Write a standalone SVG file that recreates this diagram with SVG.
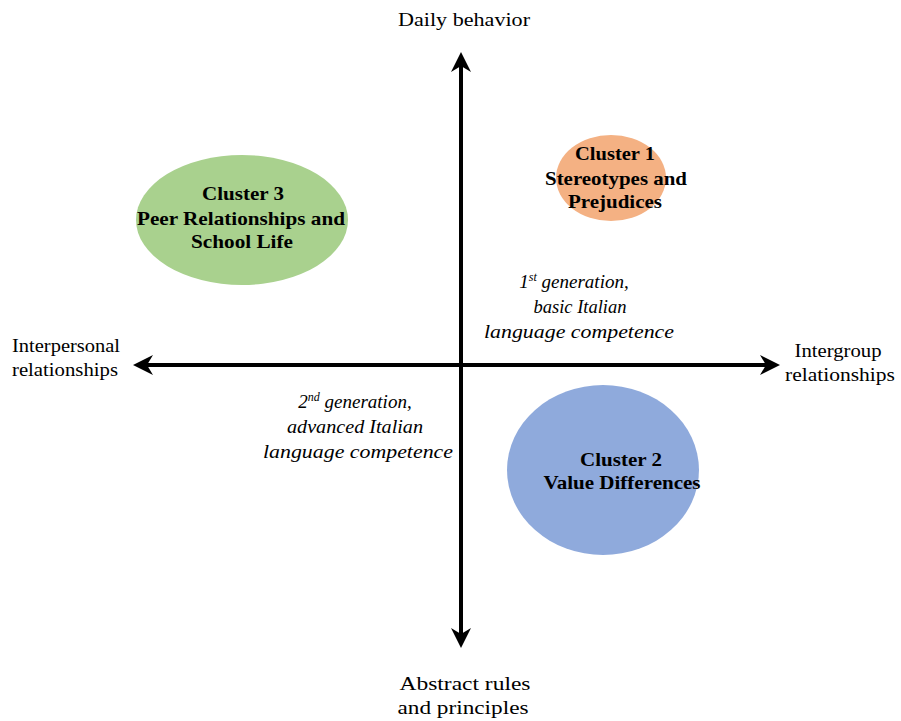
<svg xmlns="http://www.w3.org/2000/svg" width="901" height="721" viewBox="0 0 901 721">
<defs>
<marker id="ah" viewBox="0 0 10 10" refX="8" refY="5" markerWidth="5" markerHeight="5" orient="auto-start-reverse" markerUnits="strokeWidth">
<path d="M0,0 L10,5 L0,10 L3,5 Z" fill="#000"/>
</marker>
<style>
.lab{font-family:"Liberation Serif","Times New Roman",serif;font-size:19px;fill:#000}
.bold{font-family:"Liberation Serif","Times New Roman",serif;font-size:19px;font-weight:bold;fill:#000;text-anchor:middle}
.it{font-family:"Liberation Serif","Times New Roman",serif;font-size:19px;font-style:italic;fill:#000;text-anchor:middle}
.ax{stroke:#000;stroke-width:4;fill:none}
</style>
</defs>
<rect width="901" height="721" fill="#fff"/>
<g id="connectors">
<line class="ax" x1="461" y1="644" x2="461" y2="56" marker-start="url(#ah)" marker-end="url(#ah)"/>
<line class="ax" x1="137" y1="365" x2="776" y2="365" marker-start="url(#ah)" marker-end="url(#ah)"/>
</g>
<g id="cluster1">
<ellipse cx="611" cy="178" rx="55" ry="43" fill="#F4B183"/>
<text class="bold" x="615" y="160" textLength="80" lengthAdjust="spacingAndGlyphs">Cluster 1</text>
<text class="bold" x="616" y="185" textLength="142" lengthAdjust="spacingAndGlyphs">Stereotypes and</text>
<text class="bold" x="615" y="208" textLength="94" lengthAdjust="spacingAndGlyphs">Prejudices</text>
</g>
<g id="cluster3">
<ellipse cx="242" cy="220" rx="106" ry="65" fill="#A9D18E"/>
<text class="bold" x="243" y="200" textLength="82" lengthAdjust="spacingAndGlyphs">Cluster 3</text>
<text class="bold" x="241" y="225" textLength="208" lengthAdjust="spacingAndGlyphs">Peer Relationships and</text>
<text class="bold" x="242" y="248" textLength="102" lengthAdjust="spacingAndGlyphs">School Life</text>
</g>
<g id="cluster2">
<ellipse cx="603" cy="470" rx="96" ry="85" fill="#8FAADC"/>
<text class="bold" x="621" y="466" textLength="82" lengthAdjust="spacingAndGlyphs">Cluster 2</text>
<text class="bold" x="622" y="489" textLength="157" lengthAdjust="spacingAndGlyphs">Value Differences</text>
</g>
<g id="gen1">
<text class="it" x="574" y="288">1<tspan font-size="12" dy="-7">st</tspan><tspan dy="7"> generation,</tspan></text>
<text class="it" x="580" y="313" textLength="93" lengthAdjust="spacingAndGlyphs">basic Italian</text>
<text class="it" x="579" y="338" textLength="190" lengthAdjust="spacingAndGlyphs">language competence</text>
</g>
<g id="gen2">
<text class="it" x="355" y="408">2<tspan font-size="12" dy="-7">nd</tspan><tspan dy="7"> generation,</tspan></text>
<text class="it" x="355" y="433" textLength="136" lengthAdjust="spacingAndGlyphs">advanced Italian</text>
<text class="it" x="358" y="458" textLength="190" lengthAdjust="spacingAndGlyphs">language competence</text>
</g>
<g id="labels">
<text class="lab" x="464" y="26" text-anchor="middle" textLength="132" lengthAdjust="spacingAndGlyphs">Daily behavior</text>
<text class="lab" x="12" y="352" textLength="108" lengthAdjust="spacingAndGlyphs">Interpersonal</text>
<text class="lab" x="12" y="376" textLength="106" lengthAdjust="spacingAndGlyphs">relationships</text>
<text class="lab" x="838" y="357" text-anchor="middle" textLength="87" lengthAdjust="spacingAndGlyphs">Intergroup</text>
<text class="lab" x="840" y="381" text-anchor="middle" textLength="110" lengthAdjust="spacingAndGlyphs">relationships</text>
<text class="lab" x="465" y="690" text-anchor="middle" textLength="131" lengthAdjust="spacingAndGlyphs">Abstract rules</text>
<text class="lab" x="463" y="714" text-anchor="middle" textLength="131" lengthAdjust="spacingAndGlyphs">and principles</text>
</g>
</svg>
